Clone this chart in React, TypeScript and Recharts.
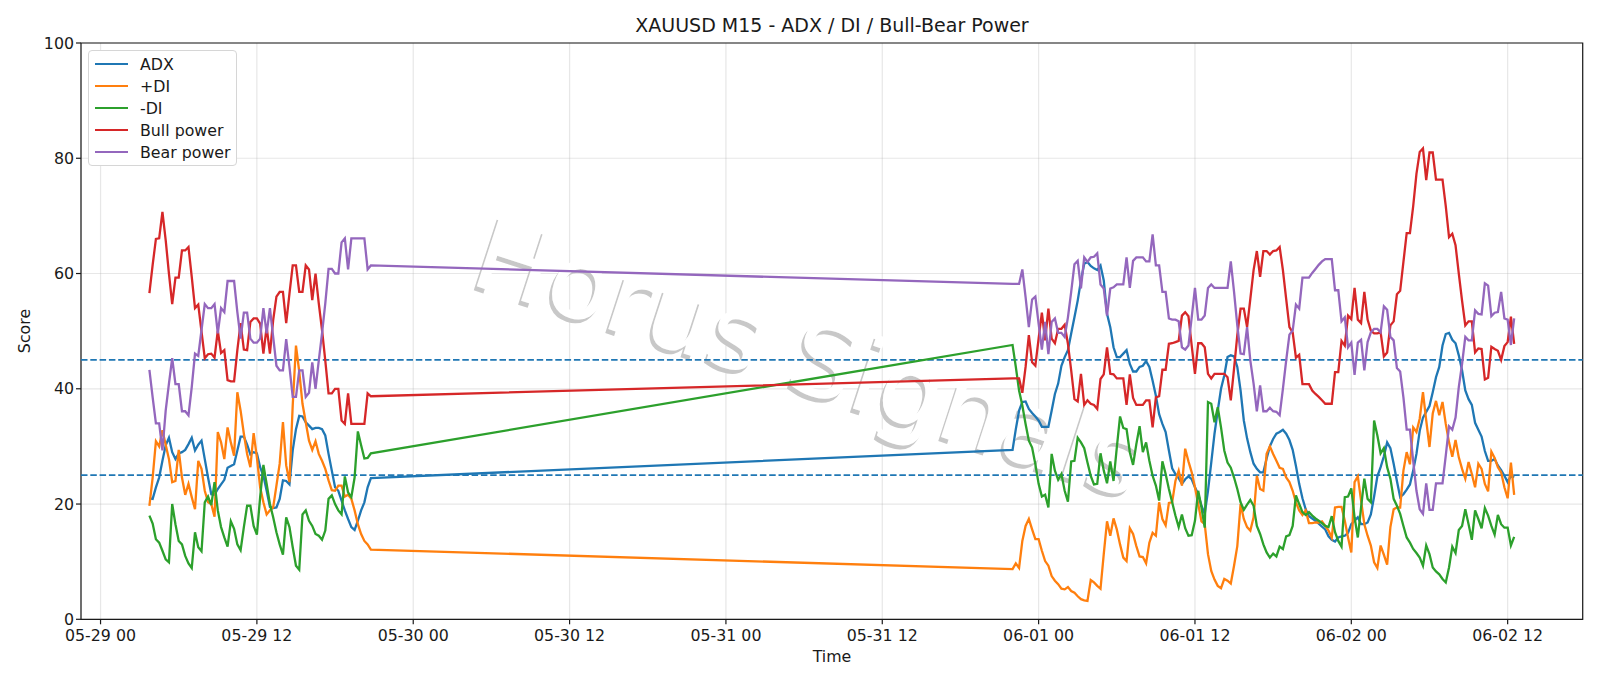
import {
  CartesianGrid,
  Legend,
  Line,
  LineChart,
  ReferenceArea,
  ReferenceLine,
  XAxis,
  YAxis,
} from "recharts";

// hours since 05-29 00:00, one bar every 15 minutes, with a gap over the weekend
const firstSessionBars = 69;
const secondSessionBars = 155;
const hours = [
  ...Array.from({ length: firstSessionBars }, (_, i) => 3.75 + i * 0.25),
  ...Array.from({ length: secondSessionBars }, (_, i) => 70 + i * 0.25),
];

const xTicks = [0, 12, 24, 36, 48, 60, 72, 84, 96, 108];
const xTickLabels = [
  "05-29 00",
  "05-29 12",
  "05-30 00",
  "05-30 12",
  "05-31 00",
  "05-31 12",
  "06-01 00",
  "06-01 12",
  "06-02 00",
  "06-02 12",
];
const yTicks = [0, 20, 40, 60, 80, 100];
const thresholds = [45, 25];

const adx = [
  21, 20.9, 22.9, 24.6, 27.5, 30.2, 31.5, 29, 27.8, 28.8,
  29, 29.4, 30.4, 31.5, 29.3, 30.3, 31, 27.8, 24.6, 21.7,
  21.6, 22.6, 23.4, 24.2, 26.3, 26.6, 26.9, 29.3, 31.7, 31.7,
  30.3, 28.6, 29, 28.8, 26.4, 24.9, 22.3, 19.5, 19.3, 19.4,
  20.9, 24.1, 24, 23.4, 29.3, 33, 35.3, 35.2, 34.2, 33.6,
  33, 33.2, 33.2, 33, 31.9, 28.7, 25.8, 22.9, 22.3, 20.6,
  18.9, 17.4, 16, 15.5, 17.1, 18.9, 20.3, 22.9, 24.5,
  // second session
  29.4, 33, 36.2, 37.7, 37.8, 36.5, 35.8, 35.2, 34.5, 33.4,
  33.4, 33.4, 36.2, 39.1, 40.9, 44, 45.5, 46.7, 49.6, 52.4,
  55.3, 58.8, 61.7, 62, 61.3, 60.9, 60.6, 61.4, 58.8, 53,
  50.7, 47.2, 45.5, 45.5, 46.1, 46.7, 44.3, 43, 43, 43.8,
  44, 44.8, 43.8, 41.4, 38.8, 35.6, 33.9, 32.5, 29.3, 26.2,
  25.2, 24.5, 23.5, 24.3, 24.8, 24.3, 22.9, 21.7, 19.7, 18.3,
  22.3, 27.2, 32.2, 36.2, 40, 42.3, 45.5, 45.8, 45.6, 43.8,
  39.7, 34.5, 31.4, 29, 27, 26.1, 25.5, 25.5, 27.9, 30,
  31.3, 32.2, 32.5, 32.9, 32.2, 31.1, 29.4, 26.6, 23.5, 21,
  19.1, 17.9, 17.5, 17.1, 16.6, 16.1, 15.6, 14.4, 13.8, 13.5,
  14.2, 14.4, 14.5, 15, 16.5, 17.1, 17.7, 16.5, 16.5, 16.8,
  18.2, 21.3, 24.8, 26.4, 28.3, 30.7, 29.7, 27, 24, 21.2,
  21.7, 22.5, 23.4, 25.8, 28.7, 32.7, 35, 36, 37, 39.4,
  42, 43.8, 47.5, 49.5, 49.7, 48.5, 47.9, 45.8, 43.2, 39.7,
  38.2, 37.2, 34.1, 32.9, 31.7, 29.2, 27.5, 27.5, 27.8, 26.7,
  25.9, 24.9, 23.8, 24.9, 24.6,
];

const plusDi = [
  19.7, 24.6, 30.9, 30, 32.8, 30.3, 27.8, 23.8, 24, 29.4,
  24.6, 21.6, 23.5, 21.2, 19.1, 27.5, 26.1, 22.3, 20.3, 20,
  17.8, 32.5, 30.7, 27.8, 33.3, 30.7, 28.4, 39.4, 36.2, 32.2,
  28.7, 26.4, 32.3, 28.1, 22.9, 20.3, 18.2, 18.9, 19.4, 23.2,
  27, 34.2, 26.7, 23.8, 37.1, 47.5, 43, 37.4, 34.2, 31,
  29.4, 30.9, 28.7, 27.5, 26.1, 24.1, 22.4, 22.3, 23.2, 23.2,
  21.3, 21.6, 20.9, 18.9, 16.5, 14.8, 13.6, 13, 12.1,
  // second session
  8.7, 9.7, 8.9, 13.6, 16.2, 17.4, 15.6, 13.9, 13.9, 11.9,
  10.1, 9.3, 7.5, 6.7, 6.1, 5.3, 5.2, 5.6, 4.9, 4.6,
  4, 3.5, 3.3, 3.2, 6.8, 6.4, 5.8, 5.3, 11.3, 17,
  14.5, 17.5, 15.6, 13, 10.7, 10.1, 15.8, 14.8, 12.7, 10.9,
  10.8, 9.7, 13.3, 15, 14.5, 20.3, 17.4, 16.3, 20.2, 20.3,
  24, 25.8, 23.2, 29.6, 27.4, 25.5, 22.9, 20, 17, 16.5,
  11.3, 8.4, 6.9, 5.8, 5.4, 7, 6.7, 6.2, 9.3, 12.7,
  20, 17.4, 16, 15.4, 17.7, 24.9, 22.6, 22.3, 28.7, 30,
  28.7, 27.5, 26.3, 26.1, 24.6, 23.8, 22.3, 20.3, 18.9, 18.1,
  18.9, 16.7, 16.7, 16.8, 16.8, 17, 16.2, 15.4, 14.2, 19.4,
  19.5, 19.5, 17.1, 14.2, 11.6, 23.8, 24.8, 20.6, 16.5, 14.5,
  12.8, 9.9, 8.9, 12.8, 11.2, 9.5, 16, 19.1, 19.4, 19.4,
  25.8, 29, 26.9, 33.3, 32.5, 34.8, 39.4, 34.5, 29.9, 35.7,
  37.9, 35.4, 37.7, 33.9, 30.7, 28.2, 31.1, 28.1, 26.1, 24.4,
  27.3, 25.2, 22.9, 27, 26.1, 23.5, 22.2, 29.1, 28, 26.4,
  25.5, 22.9, 21, 27.2, 21.6,
];

const minusDi = [
  18, 16.6, 13.9, 13.3, 11.9, 10.4, 9.9, 20, 16.5, 13.6,
  13, 11, 9.7, 8.9, 15.1, 12.5, 11.8, 20.3, 21.3, 19.8,
  23.8, 18.9, 16, 14.2, 12.6, 17, 15.7, 13, 12, 16,
  19.7, 19.7, 16.2, 14.7, 21.2, 26.8, 23.5, 20, 17.7, 15.1,
  13, 11.2, 17.7, 16, 12.5, 9.3, 8.6, 18.2, 18.9, 17.1,
  16.2, 14.8, 14.5, 13.8, 15.4, 20.9, 21.5, 20, 18.9, 18.2,
  24.8, 22, 21.2, 24.6, 32.6, 30.2, 27.9, 28, 28.8,
  // second session
  47.6, 43.8, 39.7, 37.1, 33.9, 31, 29.8, 26.9, 23.5, 21.3,
  21.6, 19.4, 28.7, 25.8, 24.2, 25.2, 22.3, 20.4, 27.4, 27.5,
  31.5, 30.7, 29.7, 27.2, 24.9, 23.4, 23.5, 28.8, 25.8, 23.6,
  27.4, 24, 29.8, 35.2, 33.2, 33, 29, 26.8, 30.4, 33.5,
  29, 30.7, 27.5, 24.9, 23.2, 20.6, 27.4, 25.2, 22.6, 20.3,
  18, 16, 18.2, 15.8, 14.5, 14.6, 17.1, 22.3, 19.4, 15.9,
  37.7, 37.4, 34.2, 36.8, 33.3, 29.3, 27.2, 26.3, 24.6, 22.6,
  20.3, 19, 19.9, 20.7, 19.7, 16.2, 14.8, 13, 11.6, 10.7,
  11.4, 10.9, 12.6, 12.2, 14.4, 14.6, 16.2, 21.5, 20, 18.6,
  18.1, 18.6, 18, 17.5, 17.1, 16.7, 16.2, 16, 17.9, 15.1,
  13.6, 12.6, 21.2, 21.3, 22.7, 17.7, 14.2, 19.4, 24.4, 20.9,
  20.3, 34.5, 31.9, 28.8, 29.7, 26.4, 24.4, 20.9, 19.7, 18.3,
  16.2, 14.2, 13.3, 12.2, 11.5, 10.7, 9.3, 12.8, 11.3, 9,
  8.3, 7.8, 7, 6.4, 9, 12.6, 11.5, 15.5, 16.2, 19.1,
  16.5, 13.8, 18.9, 17.4, 15.8, 19.3, 18, 16.2, 14.7, 18.1,
  16.5, 15.9, 15.9, 12.8, 14.3,
];

const bullPower = [
  56.6, 61.5, 66, 66.1, 70.7, 65.8, 60, 54.7, 59.3, 59.3,
  64, 64, 64.6, 59.4, 54, 54.6, 49.9, 45.3, 46, 46.1,
  45.4, 50.1, 46.2, 46.7, 41.5, 41.3, 41.3, 46.7, 51.4, 46.8,
  46.7, 51.6, 52.2, 52.2, 51.3, 46.1, 50.7, 46.1, 51.9, 56,
  56.8, 56.8, 51.4, 56.5, 61.4, 61.4, 56.8, 56.8, 61.4, 60.7,
  55.4, 60, 54.8, 50.2, 44.9, 39.2, 39.2, 40, 40, 34.5,
  33.9, 39.2, 33.9, 33.9, 33.9, 33.9, 33.9, 39.2, 38.7,
  // second session
  41.8, 41.8, 41.8, 39.3, 43.8, 49.3, 44.6, 44, 48.7, 53.2,
  48.4, 53.9, 48.7, 47.9, 50.4, 50.4, 51.1, 47.8, 43.2, 38.2,
  37.8, 42.6, 37.2, 38, 37.4, 37.2, 36.5, 41.7, 42.5, 47.2,
  42.6, 42.5, 41.8, 41.8, 41.8, 37.2, 42.5, 38.4, 37.2, 37.2,
  37.2, 38, 38, 33.3, 38.5, 38.7, 43.3, 43.3, 47.8, 47.9,
  48.1, 48.3, 52.7, 53.3, 52.6, 47.5, 42.6, 47.9, 47.9, 47.2,
  42.6, 41.8, 42.6, 42.6, 42.6, 42.6, 42, 38, 43.5, 49.3,
  53.9, 53.9, 50.7, 55.6, 60.6, 63.9, 59.4, 63.9, 63.9, 63.3,
  63.9, 64, 64.6, 60.6, 55.6, 50.7, 49.8, 45.4, 45.9, 40.8,
  40.8, 40.8, 39.7, 39.1, 38.6, 38, 37.4, 37.4, 37.4, 42.9,
  42.9, 48.3, 47.5, 52.7, 52.1, 57.5, 52, 51.4, 56.8, 52,
  50.1, 49.6, 49.6, 49.8, 45.6, 46.3, 51, 51.7, 56.4, 57,
  62, 67, 67, 71.7, 77.3, 81.1, 81.7, 76.2, 81, 81,
  76.3, 76.3, 76.3, 71.7, 66.3, 66.9, 64.9, 60, 55.3, 51,
  51.7, 51.7, 46.3, 47, 46.9, 41.6, 41.9, 47.3, 46.9, 46.6,
  45, 47.4, 48.1, 52.5, 47.8,
];

const bearPower = [
  43.3, 38.5, 34, 34, 29.3, 36.2, 40.9, 45.3, 40.8, 40.8,
  36.1, 36.1, 35.4, 40.3, 46.1, 45.7, 50.2, 54.7, 54, 54,
  54.7, 49.6, 54, 53.3, 58.7, 58.7, 58.7, 53.3, 48.7, 53.2,
  53.2, 48.7, 48, 48, 48.7, 54, 49.6, 54, 49, 44,
  43.2, 43.2, 48.6, 43.8, 38.6, 38.6, 43.2, 43.2, 38.6, 39.3,
  44.6, 40, 44.9, 49.6, 54.8, 60.8, 60.8, 60, 60, 65.4,
  66.1, 60.7, 66.1, 66.1, 66.1, 66.1, 66.1, 60.7, 61.4,
  // second session
  58.2, 58.2, 58.2, 60.7, 55.9, 50.7, 55.5, 56, 51.3, 46.8,
  51.6, 46, 51.6, 52.2, 49.7, 49.7, 49, 52.4, 56.8, 61.6,
  62.2, 57.4, 62.8, 62, 62.8, 62.9, 63.5, 58.1, 57.4, 52.7,
  57.4, 57.6, 58.1, 58.1, 58.1, 62.8, 57.5, 62.2, 62.8, 62.8,
  62.8, 62.1, 62.1, 66.8, 61.4, 61.4, 56.8, 56.8, 52.2, 52,
  52, 51.7, 47.2, 46.8, 47.5, 52.4, 57.5, 52, 52, 52.7,
  57.5, 58.1, 57.5, 57.5, 57.5, 57.5, 57.5, 62.1, 56.8, 51,
  46.1, 46, 50.7, 44.9, 40.9, 36.1, 40.6, 36.1, 36.1, 36.7,
  36.1, 36, 35.4, 40, 44.9, 49.4, 50.1, 54.6, 53.9, 59.3,
  59.3, 59.3, 60.1, 60.8, 61.5, 62.1, 62.5, 62.5, 62.5, 57.1,
  57.1, 51.7, 52.4, 47.2, 48, 42.4, 48, 48.5, 43.2, 48.1,
  49.8, 50.4, 50.4, 49.8, 54.3, 53.7, 49, 48.4, 43.6, 43,
  38.5, 32.9, 32.9, 27.5, 22.3, 19.1, 18.3, 23.6, 19, 19,
  23.6, 23.6, 23.6, 28.4, 33.5, 32.9, 35, 40.3, 44.3, 49,
  48.4, 48.4, 53.6, 53, 52.9, 58.3, 57.9, 52.6, 53.2, 53.3,
  56.8, 52.2, 52, 47.6, 52.2,
];

const rows = hours.map((time, i) => ({
  time,
  adx: adx[i],
  plusDi: plusDi[i],
  minusDi: minusDi[i],
  bull: bullPower[i],
  bear: bearPower[i],
}));

const series = [
  { key: "adx", name: "ADX", color: "#1f77b4" },
  { key: "plusDi", name: "+DI", color: "#ff7f0e" },
  { key: "minusDi", name: "-DI", color: "#2ca02c" },
  { key: "bull", name: "Bull power", color: "#d62728" },
  { key: "bear", name: "Bear power", color: "#9467bd" },
];

const FONT = "'DejaVu Sans', sans-serif";
const INK = "#1a1a1a";
const X_DOMAIN = [-1.5, 113.76];
const watermark = "Horus Signals";
const watermarkX = 799;
const watermarkY = 391;
const watermarkSize = 102;
const watermarkTransform = `rotate(18 ${watermarkX} ${watermarkY})`;

function ChartLegend({ payload }: { payload?: Array<{ value: string; color: string }> }) {
  return (
    <div
      style={{
        boxSizing: "border-box",
        width: 149,
        height: 116,
        padding: "2px 0 0 6px",
        background: "#fff",
        border: "1.2px solid #d6d6d6",
        borderRadius: 4,
        fontFamily: FONT,
        fontSize: 15.8,
        color: INK,
      }}
    >
      {(payload ?? []).map((item) => (
        <div key={item.value} style={{ display: "flex", alignItems: "center", height: 22 }}>
          <span style={{ width: 33, height: 2.2, background: item.color, marginRight: 12 }} />
          <span>{item.value}</span>
        </div>
      ))}
    </div>
  );
}

export default function App() {
  return (
    <div style={{ position: "fixed", left: 0, top: 0, width: 1600, height: 686, background: "#fff" }}>
      <LineChart
        width={1600}
        height={686}
        data={rows}
        margin={{ top: 43, right: 17.3, bottom: 36.7, left: 21 }}
      >
        <CartesianGrid stroke="#b0b0b0" strokeOpacity={0.3} strokeWidth={1.2} />
        <XAxis
          dataKey="time"
          type="number"
          domain={X_DOMAIN}
          ticks={xTicks}
          allowDataOverflow
          interval={0}
          height={30}
          axisLine={false}
          tickSize={5}
          tickMargin={5}
          tickLine={{ stroke: INK, strokeWidth: 1.2 }}
          tick={{ fill: INK, fontSize: 15.8, fontFamily: FONT }}
          tickFormatter={(value: number) => xTickLabels[xTicks.indexOf(value)]}
        />
        <YAxis
          type="number"
          domain={[0, 100]}
          ticks={yTicks}
          allowDataOverflow
          interval={0}
          width={60}
          axisLine={false}
          tickSize={5}
          tickLine={{ stroke: INK, strokeWidth: 1.2 }}
          tick={{ fill: INK, fontSize: 15.8, fontFamily: FONT }}
        />
        <text x={832} y={32} textAnchor="middle" fontFamily={FONT} fontSize={19} fill={INK}>
          XAUUSD M15 - ADX / DI / Bull-Bear Power
        </text>
        <text x={832} y={662} textAnchor="middle" fontFamily={FONT} fontSize={15.8} fill={INK}>
          Time
        </text>
        <text
          x={30}
          y={331}
          textAnchor="middle"
          transform="rotate(-90 30 331)"
          fontFamily={FONT}
          fontSize={15.8}
          fill={INK}
        >
          Score
        </text>

        {/* watermark: grey shadow with a white face on top */}
        <g transform={watermarkTransform} fontFamily={FONT} fontSize={watermarkSize} textAnchor="middle">
          <text x={watermarkX - 1.6} y={watermarkY + 4.7} fill="#c8c8c8">
            {watermark}
          </text>
          <text x={watermarkX} y={watermarkY} fill="#fff">
            {watermark}
          </text>
        </g>

        {thresholds.map((level) => (
          <ReferenceLine
            key={level}
            y={level}
            stroke="#1f77b4"
            strokeWidth={1.76}
            strokeDasharray="6.5 2.8"
          />
        ))}
        {series.map((s) => (
          <Line
            key={s.key}
            type="linear"
            dataKey={s.key}
            name={s.name}
            stroke={s.color}
            strokeWidth={2.3}
            dot={false}
            activeDot={false}
            isAnimationActive={false}
          />
        ))}

        <text
          x={watermarkX}
          y={watermarkY}
          transform={watermarkTransform}
          fontFamily={FONT}
          fontSize={watermarkSize}
          textAnchor="middle"
          fill="#fff"
          fillOpacity={0.25}
        >
          {watermark}
        </text>

        <ReferenceArea
          x1={X_DOMAIN[0]}
          x2={X_DOMAIN[1]}
          y1={0}
          y2={100}
          fill="none"
          stroke={INK}
          strokeWidth={1.2}
        />
        <Legend
          layout="vertical"
          verticalAlign="middle"
          align="center"
          itemSorter={null}
          wrapperStyle={{ left: 88, top: 50, width: 149 }}
          content={(props: any) => <ChartLegend payload={props.payload} />}
        />
      </LineChart>
    </div>
  );
}
